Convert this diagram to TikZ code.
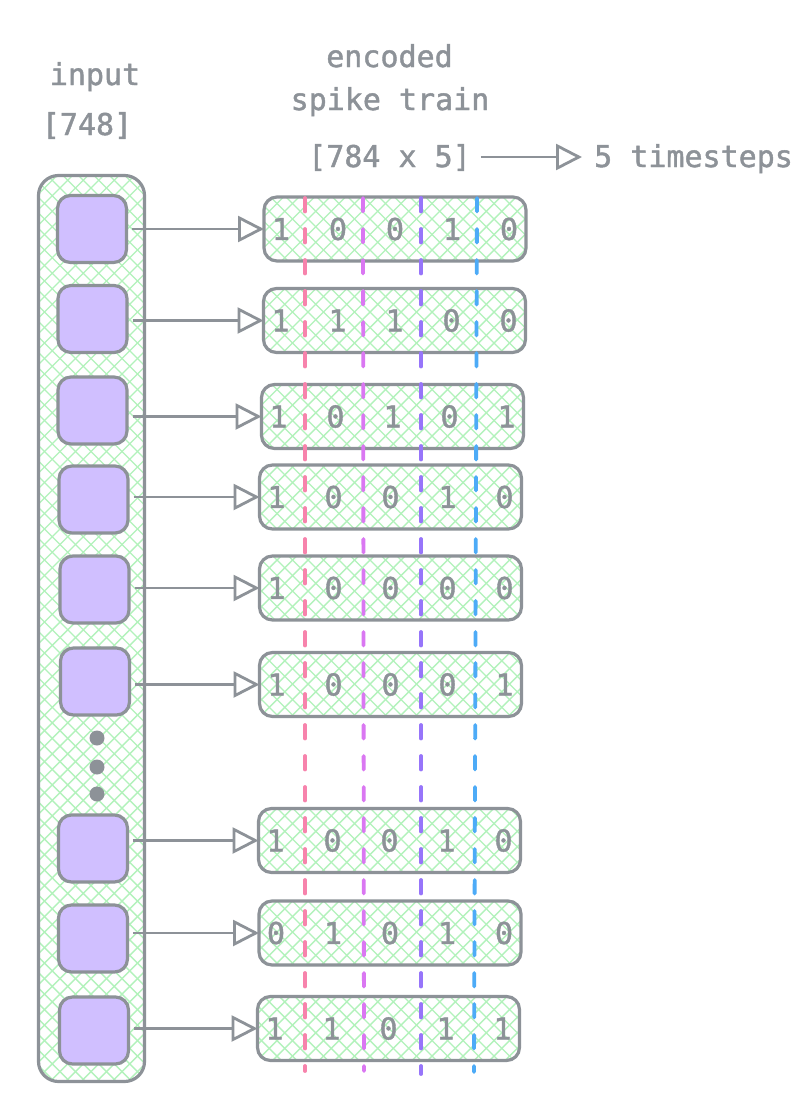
\documentclass[tikz,border=0pt]{standalone}
\usepackage{fontspec}
\newfontfamily\lblfont{DejaVu Sans Mono}[FakeBold=1.4]
\usetikzlibrary{arrows.meta}
\pgfdeclarelayer{bg}
\pgfsetlayers{bg,main}
\definecolor{stroke}{HTML}{8D9298}
\definecolor{txt}{HTML}{8D9298}
\definecolor{hatch}{HTML}{B2F2BB}
\definecolor{lav}{HTML}{D0BFFF}
\definecolor{cpink}{HTML}{F783AC}
\definecolor{cmag}{HTML}{DA77F2}
\definecolor{cvio}{HTML}{9775FA}
\definecolor{cblue}{HTML}{4DABF7}
\tikzset{
  column/.style={draw=stroke, line width=3.2pt, rounded corners=20pt, minimum width=106pt,
    minimum height=906pt, inner sep=0pt, outer sep=0pt},
  cell/.style={draw=stroke, line width=3.2pt, fill=lav, rounded corners=13pt,
    minimum width=69pt, minimum height=67pt, inner sep=0pt},
  rowbox/.style={draw=stroke, line width=3.2pt, rounded corners=13pt, minimum width=262pt,
    minimum height=64pt, inner sep=0pt, outer sep=0pt},
  hatchline/.style={draw=hatch, line width=1.4pt},
  lbl/.style={text=txt, font=\lblfont\fontsize{30}{34}\selectfont, inner sep=0pt},
  bit/.style={lbl, anchor=center},
  link/.style={draw=stroke, line width=2.8pt,
    -{Triangle[open, length=26pt, width=26pt, line width=2.8pt]}, shorten <=4pt},
  tl/.style={line width=3.8pt, line cap=round, dash pattern=on 13.5pt off 17.5pt},
  dotn/.style={circle, fill=stroke, minimum size=15pt, inner sep=0pt}
}
\begin{document}
\begin{tikzpicture}[x=1pt,y=-1pt]
\useasboundingbox (0,0) rectangle (806,1120);

% titles
\node[lbl, anchor=base] (tin) at (95,85) {input};
\node[lbl, anchor=base] (tsz) at (87,135) {[748]};
\node[lbl, anchor=base] (tenc) at (389.5,67) {encoded};
\node[lbl, anchor=base] (tspk) at (390,110) {spike train};
\node[lbl, anchor=base] (tdim) at (389.5,167) {[784 x 5]};
\node[lbl, anchor=base west] (tts) at (594,167) {5 timesteps};
\draw[link, shorten <=10pt, shorten >=12pt] (tdim.east |- 0,157) coordinate (ha) -- (tts.west |- 0,157) coordinate (hb);

% input column
\node[column] (col) at (91.5,628.5) {};

% input cells
\node[cell] (s1) at (92,229) {};
\node[cell] (s2) at (92.5,319) {};
\node[cell] (s3) at (92.5,410.5) {};
\node[cell] (s4) at (93.5,499.5) {};
\node[cell] (s5) at (94.5,589.5) {};
\node[cell] (s6) at (95,681.5) {};
\node[cell] (s7) at (93,848.5) {};
\node[cell] (s8) at (93,938.5) {};
\node[cell] (s9) at (94,1030.5) {};

\node[dotn] (d1) at (97,738) {};
\node[dotn] (d2) at (97,767) {};
\node[dotn] (d3) at (97,794) {};

% spike rows
\node[rowbox] (r1) at (395,229) {};
\node[rowbox] (r2) at (394.5,320.5) {};
\node[rowbox] (r3) at (392.5,416.5) {};
\node[rowbox] (r4) at (390.5,497) {};
\node[rowbox] (r5) at (390.5,588) {};
\node[rowbox] (r6) at (390.5,684.5) {};
\node[rowbox] (r7) at (389.5,840.5) {};
\node[rowbox] (r8) at (390,933) {};
\node[rowbox] (r9) at (388.5,1028.5) {};

% hatch fill (background layer)
\begin{pgfonlayer}{bg}
\fill[white] (0,0) rectangle (806,1120);
\begin{scope}
  \clip[rounded corners=20pt] (col.north west) rectangle (col.south east)
    [rounded corners=13pt]
    (r1.north west) rectangle (r1.south east)
    (r2.north west) rectangle (r2.south east)
    (r3.north west) rectangle (r3.south east)
    (r4.north west) rectangle (r4.south east)
    (r5.north west) rectangle (r5.south east)
    (r6.north west) rectangle (r6.south east)
    (r7.north west) rectangle (r7.south east)
    (r8.north west) rectangle (r8.south east)
    (r9.north west) rectangle (r9.south east);
  \foreach \t in {0,...,130} {
    \draw[hatchline] (-1120+15.5*\t,0) -- ++(1140,1140);
    \draw[hatchline] (15.5*\t,0) -- ++(-1140,1140);
  }
\end{scope}
\end{pgfonlayer}

% time step separators
\coordinate (p1) at (305,198); \coordinate (q1) at (305,1071);
\coordinate (p2) at (363,198); \coordinate (q2) at (364,1071);
\coordinate (p3) at (421,198); \coordinate (q3) at (421,1074);
\coordinate (p4) at (477,198); \coordinate (q4) at (474,1072);
\draw[tl, draw=cpink] (p1) -- (q1);
\draw[tl, draw=cmag] (p2) -- (q2);
\draw[tl, draw=cvio] (p3) -- (q3);
\draw[tl, draw=cblue] (p4) -- (q4);

% arrows
\foreach \i in {1,...,9} {
  \draw[link] (s\i.east |- r\i.west) -- (r\i.west);
}

% bits
\foreach \r/\bits in {r1/{1,0,0,1,0}, r2/{1,1,1,0,0}, r3/{1,0,1,0,1}, r4/{1,0,0,1,0},
                     r5/{1,0,0,0,0}, r6/{1,0,0,0,1}, r7/{1,0,0,1,0}, r8/{0,1,0,1,0},
                     r9/{1,1,0,1,1}} {
  \foreach \b [count=\k] in \bits {
    \pgfmathsetmacro{\off}{int(17+57*(\k-1))}
    \node[bit] (\r-b\k) at ([xshift=\off pt]\r.west) {\b};
  }
}
\end{tikzpicture}
\end{document}
